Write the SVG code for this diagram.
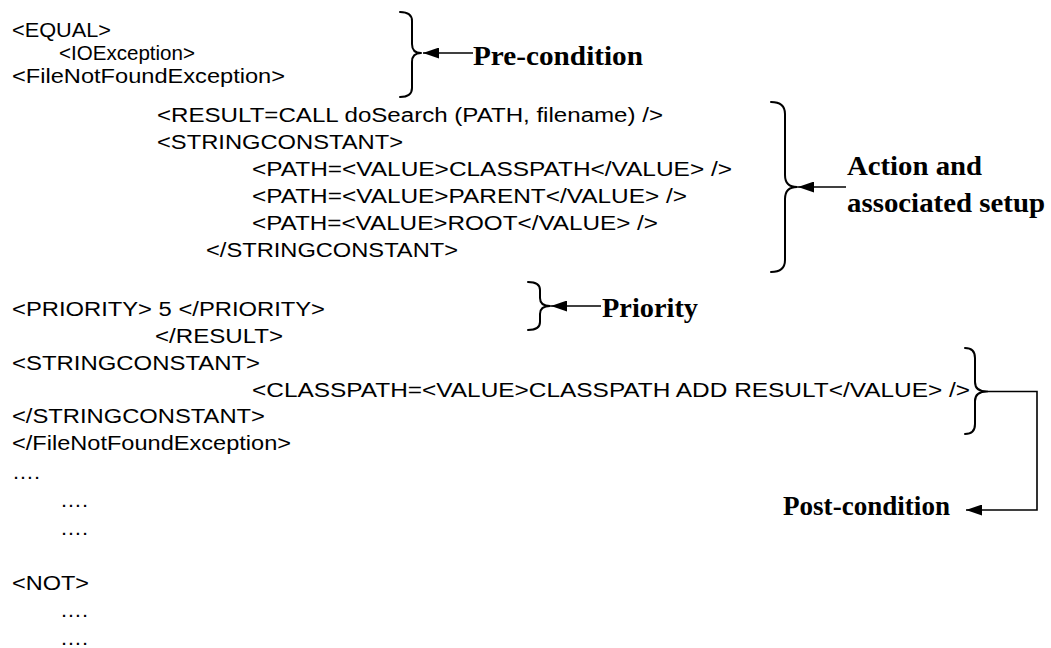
<svg xmlns="http://www.w3.org/2000/svg" width="1051" height="648" viewBox="0 0 1051 648">
  <style>
    .code { font-family: "Liberation Sans", Arial, sans-serif; font-size: 20px; fill: #000; }
    .label { font-family: "Liberation Serif", "Times New Roman", serif; font-size: 28px; font-weight: bold; fill: #000; }
    .brace { fill: none; stroke: #000; stroke-width: 2; stroke-linecap: round; stroke-linejoin: round; }
    .conn { fill: none; stroke: #000; stroke-width: 1.6; }
  </style>
  <defs>
    <marker id="arrow" markerUnits="userSpaceOnUse" markerWidth="17" markerHeight="11" refX="16" refY="5.5" orient="auto">
      <path d="M0,0 L16,5.5 L0,11 z" fill="#000"/>
    </marker>
  </defs>
  <rect width="1051" height="648" fill="#fff"/>

  <!-- rule listing -->
  <g id="listing" class="code">
    <text x="12" y="37" textLength="99" lengthAdjust="spacingAndGlyphs">&lt;EQUAL&gt;</text>
    <text x="59" y="59.5" textLength="136" lengthAdjust="spacingAndGlyphs">&lt;IOException&gt;</text>
    <text x="12" y="82.5" textLength="273" lengthAdjust="spacingAndGlyphs">&lt;FileNotFoundException&gt;</text>
    <text x="157" y="122" textLength="506" lengthAdjust="spacingAndGlyphs">&lt;RESULT=CALL doSearch (PATH, filename) /&gt;</text>
    <text x="157" y="149" textLength="246" lengthAdjust="spacingAndGlyphs">&lt;STRINGCONSTANT&gt;</text>
    <text x="252" y="176" textLength="480" lengthAdjust="spacingAndGlyphs">&lt;PATH=&lt;VALUE&gt;CLASSPATH&lt;/VALUE&gt; /&gt;</text>
    <text x="252" y="203" textLength="435" lengthAdjust="spacingAndGlyphs">&lt;PATH=&lt;VALUE&gt;PARENT&lt;/VALUE&gt; /&gt;</text>
    <text x="252" y="230" textLength="406" lengthAdjust="spacingAndGlyphs">&lt;PATH=&lt;VALUE&gt;ROOT&lt;/VALUE&gt; /&gt;</text>
    <text x="206" y="257" textLength="252" lengthAdjust="spacingAndGlyphs">&lt;/STRINGCONSTANT&gt;</text>
    <text x="12" y="316" textLength="313" lengthAdjust="spacingAndGlyphs">&lt;PRIORITY&gt; 5 &lt;/PRIORITY&gt;</text>
    <text x="155" y="343" textLength="128" lengthAdjust="spacingAndGlyphs">&lt;/RESULT&gt;</text>
    <text x="12" y="369.5" textLength="248" lengthAdjust="spacingAndGlyphs">&lt;STRINGCONSTANT&gt;</text>
    <text x="252" y="396.5" textLength="718" lengthAdjust="spacingAndGlyphs">&lt;CLASSPATH=&lt;VALUE&gt;CLASSPATH ADD RESULT&lt;/VALUE&gt; /&gt;</text>
    <text x="12" y="423" textLength="253" lengthAdjust="spacingAndGlyphs">&lt;/STRINGCONSTANT&gt;</text>
    <text x="12" y="450" textLength="279" lengthAdjust="spacingAndGlyphs">&lt;/FileNotFoundException&gt;</text>
    <text x="12" y="479" textLength="28" lengthAdjust="spacingAndGlyphs">….</text>
    <text x="60" y="507" textLength="28" lengthAdjust="spacingAndGlyphs">….</text>
    <text x="60" y="535" textLength="28" lengthAdjust="spacingAndGlyphs">….</text>
    <text x="12" y="590" textLength="77" lengthAdjust="spacingAndGlyphs">&lt;NOT&gt;</text>
    <text x="60" y="617" textLength="28" lengthAdjust="spacingAndGlyphs">….</text>
    <text x="60" y="645" textLength="28" lengthAdjust="spacingAndGlyphs">….</text>
  </g>

  <!-- annotation: pre-condition -->
  <g id="pre-condition">
    <path class="brace" d="M400,12 Q412,12 412,21 L412,44 Q412,53 421,53 Q412,53 412,62 L412,88 Q412,97 400,97"/>
    <text class="label" x="473" y="65" textLength="170" lengthAdjust="spacingAndGlyphs">Pre-condition</text>
  </g>

  <!-- annotation: action and setup -->
  <g id="action-setup">
    <path class="brace" d="M771,102 Q785,102 785,114 L785,175 Q785,187 797,187 Q785,187 785,199 L785,260 Q785,272 771,272"/>
    <text class="label" x="847" y="175" textLength="135" lengthAdjust="spacingAndGlyphs">Action and</text>
    <text class="label" x="847" y="212" textLength="198" lengthAdjust="spacingAndGlyphs">associated setup</text>
  </g>

  <!-- annotation: priority -->
  <g id="priority">
    <path class="brace" d="M528,282 Q540,282 540,290 L540,298 Q540,306 550,306 Q540,306 540,314 L540,322 Q540,330 528,330"/>
    <text class="label" x="602" y="317" textLength="96" lengthAdjust="spacingAndGlyphs">Priority</text>
  </g>

  <!-- annotation: post-condition -->
  <g id="post-condition">
    <path class="brace" d="M965,348 Q975,348 975,358 L975,382 Q975,391.5 987,391.5 Q975,391.5 975,401 L975,424 Q975,434 965,434"/>
    <text class="label" x="783" y="515" textLength="167" lengthAdjust="spacingAndGlyphs">Post-condition</text>
  </g>

  <!-- connectors -->
  <g id="connectors" class="conn">
    <line x1="473" y1="53" x2="423" y2="53" marker-end="url(#arrow)"/>
    <line x1="846" y1="187" x2="798" y2="187" marker-end="url(#arrow)"/>
    <line x1="601" y1="306" x2="551" y2="306" marker-end="url(#arrow)"/>
    <polyline points="987,391.5 1037,391.5 1037,510 966,510" marker-end="url(#arrow)"/>
  </g>
</svg>
